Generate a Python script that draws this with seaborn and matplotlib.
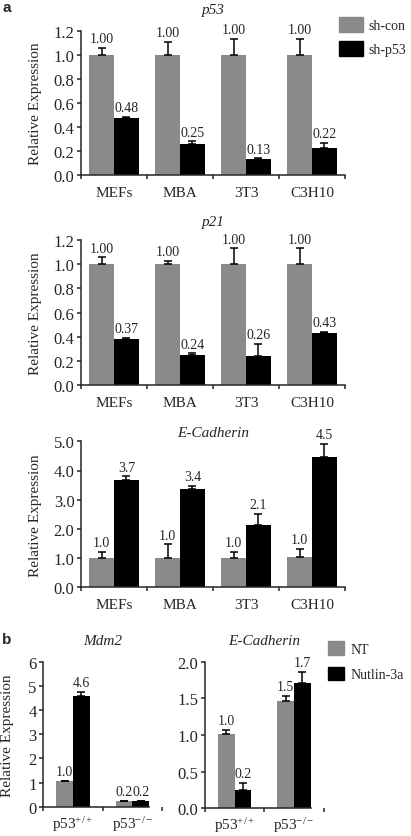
import numpy as np
import pandas as pd
import matplotlib
matplotlib.use("Agg")
import matplotlib.pyplot as plt
from matplotlib.patches import Patch
import seaborn as sns

# ── data ─────────────────────────────────────────────────────
cells = ["MEFs", "MBA", "3T3", "C3H10"]
hue_a = ["sh-con", "sh-p53"]

p53_con      = [1.00, 1.00, 1.00, 1.00]
p53_con_err  = [0.056, 0.108, 0.13, 0.13]
p53_sh       = [0.473, 0.256, 0.131, 0.223]
p53_sh_err   = [0.007, 0.022, 0.005, 0.041]
p53_con_lbl  = ["1.00", "1.00", "1.00", "1.00"]
p53_sh_lbl   = ["0.48", "0.25", "0.13", "0.22"]

p21_con      = [1.00, 1.00, 1.00, 1.00]
p21_con_err  = [0.057, 0.03, 0.13, 0.13]
p21_sh       = [0.38, 0.25, 0.237, 0.433]
p21_sh_err   = [0.009, 0.012, 0.103, 0.006]
p21_con_lbl  = ["1.00", "1.00", "1.00", "1.00"]
p21_sh_lbl   = ["0.37", "0.24", "0.26", "0.43"]

ecad_con     = [1.00, 1.00, 1.00, 1.04]
ecad_con_err = [0.22, 0.47, 0.20, 0.27]
ecad_sh      = [3.69, 3.37, 2.13, 4.45]
ecad_sh_err  = [0.11, 0.09, 0.39, 0.46]
ecad_con_lbl = ["1.0", "1.0", "1.0", "1.0"]
ecad_sh_lbl  = ["3.7", "3.4", "2.1", "4.5"]

genotypes = ["p53$^{+/+}$", "p53$^{-/-}$"]
hue_b = ["NT", "Nutlin-3a"]

mdm2_nt       = [1.05, 0.22]
mdm2_nt_err   = [0.03, 0.02]
mdm2_nut      = [4.59, 0.23]
mdm2_nut_err  = [0.16, 0.02]
mdm2_nt_lbl   = ["1.0", "0.2"]
mdm2_nut_lbl  = ["4.6", "0.2"]

ecadb_nt      = [1.01, 1.47]
ecadb_nt_err  = [0.06, 0.06]
ecadb_nut     = [0.25, 1.71]
ecadb_nut_err = [0.095, 0.15]
ecadb_nt_lbl  = ["1.0", "1.5"]
ecadb_nut_lbl = ["0.2", "1.7"]

# ── style ────────────────────────────────────────────────────
sns.set_style("ticks")
plt.rcParams["font.family"] = ["Liberation Serif", "DejaVu Serif"]
plt.rcParams["mathtext.fontset"] = "custom"
plt.rcParams["mathtext.rm"] = "Liberation Serif"
plt.rcParams["mathtext.it"] = "Liberation Serif:italic"
plt.rcParams["axes.linewidth"] = 1.1

GRAY, BLACK = "#8a8a8a", "#000000"
W, H = 411, 837

fig = plt.figure(figsize=(W / 100, H / 100), dpi=100)


def px_axes(left, top, right, bottom):
    return fig.add_axes([left / W, 1 - bottom / H, (right - left) / W, (bottom - top) / H])


def draw_panel(ax, cats, hues, vals, errs, lbls, ymax, yticks, yfmt, width,
               title, title_pad, xpad, lbl_size=10):
    df = pd.DataFrame({
        "cat": np.repeat([cats], len(hues), axis=0).ravel(),
        "grp": np.repeat(hues, len(cats)),
        "val": np.concatenate(vals),
    })
    sns.barplot(data=df, x="cat", y="val", hue="grp", order=cats, hue_order=hues,
                palette=[GRAY, BLACK], width=width, errorbar=None, linewidth=0,
                legend=False, ax=ax)
    # one-sided error bars + value labels on top of each cap
    for cont, err, lab in zip(ax.containers, errs, lbls):
        xs = [b.get_x() + b.get_width() / 2 for b in cont]
        hs = [b.get_height() for b in cont]
        ax.errorbar(xs, hs, yerr=[np.zeros(len(err)), err], fmt="none",
                    ecolor="black", elinewidth=1.1, capsize=2.9, capthick=1.1, zorder=5)
        for x, h, e, t in zip(xs, hs, err, lab):
            ax.annotate(t, (x, h + e), xytext=(0, 2), textcoords="offset points",
                        ha="center", va="bottom", fontsize=lbl_size)
    n = len(cats)
    ax.set_xlim(-0.5, n - 0.5)
    ax.set_ylim(0, ymax)
    ax.set_yticks(yticks)
    ax.set_yticklabels([yfmt.format(v) for v in yticks])
    ax.set_xticks(range(n))
    ax.set_xticks(np.arange(n + 1) - 0.5, minor=True)
    ax.tick_params(axis="x", which="major", length=0, pad=xpad, labelsize=11)
    ax.tick_params(axis="x", which="minor", length=3.2, width=1.1, direction="out")
    ax.tick_params(axis="y", length=3.2, width=1.1, pad=1.5, labelsize=12)
    ax.set_xlabel("")
    ax.set_ylabel("Relative Expression", fontsize=11)
    sns.despine(ax=ax)
    ax.set_title(title, fontsize=11, fontstyle="italic", pad=title_pad)


# ── panel a ──────────────────────────────────────────────────
ax1 = px_axes(81, 31.7, 345, 175.7)
draw_panel(ax1, cells, hue_a, [p53_con, p53_sh], [p53_con_err, p53_sh_err],
           [p53_con_lbl, p53_sh_lbl], 1.2, np.arange(0, 1.21, 0.2), "{:.1f}",
           0.755, "p53", 13, 8)

ax2 = px_axes(81, 241, 345, 386)
draw_panel(ax2, cells, hue_a, [p21_con, p21_sh], [p21_con_err, p21_sh_err],
           [p21_con_lbl, p21_sh_lbl], 1.2, np.arange(0, 1.21, 0.2), "{:.1f}",
           0.755, "p21", 11, 8)

ax3 = px_axes(81, 442.3, 345, 588.3)
draw_panel(ax3, cells, hue_a, [ecad_con, ecad_sh], [ecad_con_err, ecad_sh_err],
           [ecad_con_lbl, ecad_sh_lbl], 5.0, np.arange(0, 5.01, 1.0), "{:.1f}",
           0.755, "E-Cadherin", 4, 8)

for ax in (ax1, ax2, ax3):
    ax.yaxis.set_label_coords(-0.148, 0.5)

# ── panel b ──────────────────────────────────────────────────
ax4 = px_axes(43.3, 662.7, 162, 807.7)
draw_panel(ax4, genotypes, hue_b, [mdm2_nt, mdm2_nut], [mdm2_nt_err, mdm2_nut_err],
           [mdm2_nt_lbl, mdm2_nut_lbl], 6, np.arange(0, 7, 1), "{:.0f}",
           0.56, "Mdm2", 13, 5)
ax4.yaxis.set_label_coords(-0.245, 0.5)

ax5 = px_axes(205, 662.7, 323.6, 809.3)
draw_panel(ax5, genotypes, hue_b, [ecadb_nt, ecadb_nut], [ecadb_nt_err, ecadb_nut_err],
           [ecadb_nt_lbl, ecadb_nut_lbl], 2.0, np.arange(0, 2.01, 0.5), "{:.1f}",
           0.56, "E-Cadherin", 13, 5)
ax5.set_ylabel("")

for ax in (ax4, ax5):
    ax.spines["bottom"].set_bounds(-0.5, 1.28)

# ── legends ──────────────────────────────────────────────────
fig.legend([Patch(color=GRAY), Patch(color=BLACK)], hue_a, loc="upper left",
           bbox_to_anchor=(339 / W, 1 - 18 / H), frameon=False, fontsize=10,
           borderpad=0, borderaxespad=0, handlelength=1.75, handleheight=1.25,
           handletextpad=0.35, labelspacing=0.65)
fig.legend([Patch(color=GRAY), Patch(color=BLACK)], hue_b, loc="upper left",
           bbox_to_anchor=(328 / W, 1 - 642 / H), frameon=False, fontsize=10,
           borderpad=0, borderaxespad=0, handlelength=1.15, handleheight=1.15,
           handletextpad=0.5, labelspacing=0.8)

fig.text(2 / W, 1 - 1 / H, "a", fontsize=11, fontweight="bold", family="Liberation Sans",
         ha="left", va="top")
fig.text(2 / W, 1 - 633 / H, "b", fontsize=11, fontweight="bold", family="Liberation Sans",
         ha="left", va="top")

fig.savefig("out.png", dpi=100)
